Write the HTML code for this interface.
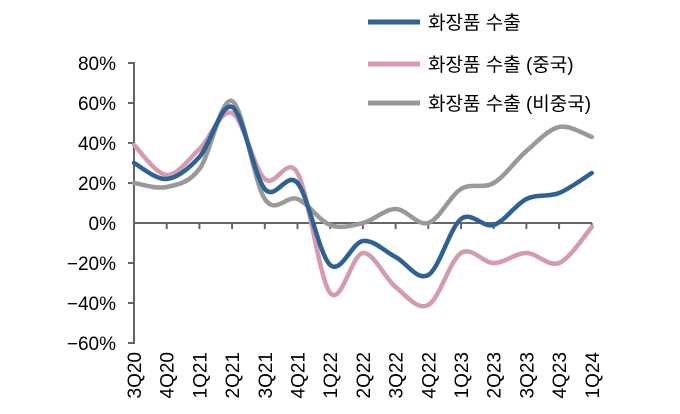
<!DOCTYPE html>
<html><head><meta charset="utf-8"><style>
body{margin:0;background:#fff;width:680px;height:414px;overflow:hidden}
svg{display:block;font-family:"Liberation Sans","Noto Sans CJK KR",sans-serif}
</style></head><body>
<svg id="s" width="680" height="414" viewBox="0 0 680 414">
<g fill="#000" font-size="19" text-anchor="end">
<text x="116" y="70">80%</text><text x="116" y="110">60%</text><text x="116" y="150">40%</text><text x="116" y="190">20%</text><text x="116" y="230">0%</text><text x="116" y="270">−20%</text><text x="116" y="310">−40%</text><text x="116" y="350">−60%</text>
</g>
<g stroke="#666" stroke-width="2" fill="none" id="ax"></g>
<g id="xl" font-size="19" fill="#000" text-anchor="end"></g>
<g id="lines" fill="none" stroke-width="4.5" stroke-linecap="round" stroke-linejoin="round"></g>
<g font-size="19" fill="#000">
<line x1="368" y1="22" x2="420" y2="22" stroke="#2e6295" stroke-width="5"/>
<text x="428" y="29">화장품 수출</text>
<line x1="368" y1="64" x2="420" y2="64" stroke="#d49aae" stroke-width="5"/>
<text x="428" y="71">화장품 수출 (중국)</text>
<line x1="368" y1="103" x2="420" y2="103" stroke="#999" stroke-width="5"/>
<text x="428" y="110">화장품 수출 (비중국)</text>
</g>
</svg>
<script>
var ns="http://www.w3.org/2000/svg";
function el(p,t,a,txt){var e=document.createElementNS(ns,t);for(var k in a)e.setAttribute(k,a[k]);if(txt)e.textContent=txt;p.appendChild(e);return e;}
var X=function(i){return 134+32.7*i}, Y=function(v){return 223-2*v};
var ax=document.getElementById('ax');
el(ax,'path',{d:'M128 63H134V343H128 M134 103H128 M134 143H128 M134 183H128 M134 263H128 M134 303H128'});
var d='M134 223H592';for(var i=1;i<15;i++)d+='M'+X(i)+' 223V229';
el(ax,'path',{d:d});
var labs=['3Q20','4Q20','1Q21','2Q21','3Q21','4Q21','1Q22','2Q22','3Q22','4Q22','1Q23','2Q23','3Q23','4Q23','1Q24'];
var xl=document.getElementById('xl');
labs.forEach(function(l,i){var x=X(i)+7;el(xl,'text',{x:0,y:0,transform:'translate('+x+',352) rotate(-90)'},l);});
var data=[
['#d49aae',[39,24,37,55,22,25,-35,-15,-32,-41,-15,-20,-15,-20,-2]],
['#999',[20,18,27,61,12,12,-1,0,7,0,17,20,36,48,43]],
['#2e6295',[30,22,33,58,17,20,-21,-9,-17,-26,2,-1,12,15,25]]];
var g=document.getElementById('lines');
data.forEach(function(s){var p=s[1].map(function(v,i){return [X(i),Y(v)]});
var d='M'+p[0][0]+' '+p[0][1];
for(var i=0;i<p.length-1;i++){var p0=p[i-1]||p[i],p1=p[i],p2=p[i+1],p3=p[i+2]||p[i+1];
d+='C'+(p1[0]+(p2[0]-p0[0])/6)+' '+(p1[1]+(p2[1]-p0[1])/6)+' '+(p2[0]-(p3[0]-p1[0])/6)+' '+(p2[1]-(p3[1]-p1[1])/6)+' '+p2[0]+' '+p2[1];}
el(g,'path',{d:d,stroke:s[0]});});
</script>
</body></html>
